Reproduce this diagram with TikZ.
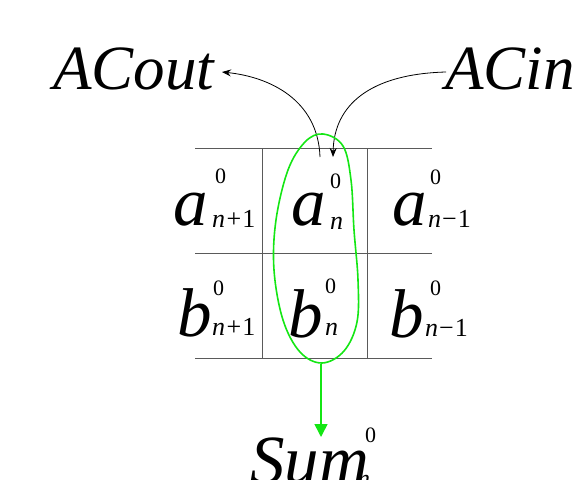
\documentclass[tikz,border=0pt]{standalone}
\usepackage{fontspec}
\setmainfont{Liberation Serif}
\usetikzlibrary{arrows.meta}
\definecolor{ovalgreen}{RGB}{20,230,20}
\definecolor{gridgray}{RGB}{90,90,90}
\begin{document}
\begin{tikzpicture}[x=1pt,y=-1pt,
  big/.style={inner sep=0,anchor=base west,font=\fontsize{69}{69}\selectfont\itshape},
  supz/.style={inner sep=0,anchor=base west,font=\fontsize{22}{22}\selectfont},
  subn/.style={inner sep=0,anchor=base west,font=\fontsize{26}{26}\selectfont},
  lbl/.style={inner sep=0,anchor=base west,font=\fontsize{63}{63}\selectfont\itshape},
  gridline/.style={draw=gridgray,line width=0.9pt},
  blackarrow/.style={draw=black,line width=0.8pt,-{Stealth[length=9pt,width=7pt]}},
  greenline/.style={draw=ovalgreen,line width=1.6pt}]
\useasboundingbox (0,0) rectangle (585,479);
% grid
\draw[gridline] (195,148) -- (432,148);
\draw[gridline] (195,253) -- (432,253);
\draw[gridline] (195,358) -- (432,358);
\draw[gridline] (262,148) -- (262,358);
\draw[gridline] (367,148) -- (367,358);
% row a
\node[big] (a1) at (173,225) {a};
\node[supz] (a1s) at (215,183) {0};
\node[subn] (a1n) at (212,227) {\textit{n}\kern1.5pt+\kern1pt1};
\node[big] (a2) at (291,225) {a};
\node[supz] (a2s) at (330,188) {0};
\node[subn] (a2n) at (330,229) {\textit{n}};
\node[big] (a3) at (392,225) {a};
\node[supz] (a3s) at (430,184) {0};
\node[subn] (a3n) at (428,227) {\textit{n}\kern1pt−\kern1pt1};
% row b
\node[big] (b1) at (177,336) {b};
\node[supz] (b1s) at (213,295) {0};
\node[subn] (b1n) at (212,335) {\textit{n}\kern1.5pt+\kern1pt1};
\node[big] (b2) at (288,337) {b};
\node[supz] (b2s) at (325,293) {0};
\node[subn] (b2n) at (325,335) {\textit{n}};
\node[big] (b3) at (389,337) {b};
\node[supz] (b3s) at (430,295) {0};
\node[subn] (b3n) at (425,336) {\textit{n}\kern1pt−\kern1pt1};
% labels
\node[lbl] (acout) at (53,89) {ACout};
\node[lbl] (acin) at (445,89) {ACin};
\node[big] (sum) at (250,483) {Sum};
\node[supz] (sums) at (365,442) {0};
\node[subn] (sumn) at (357,487) {\textit{n}};
% arrows
\coordinate (outstart) at (320,157);
\coordinate (outend) at (222,72);
\coordinate (instart) at (446,72);
\coordinate (inend) at (333,157);
\draw[blackarrow] (outstart) .. controls (318,100) and (270,77) .. (outend);
\draw[blackarrow] (instart) .. controls (370,74) and (334,105) .. (inend);
% green oval
\draw[greenline] plot[smooth cycle, tension=0.6] coordinates {
 (323,134) (343,146) (351,180) (354,230) (358,280) (357,322) (344,351)
 (322,363) (300,352) (283,320) (274,270) (276,220) (288,170) (305,142)};
\coordinate (ovalbottom) at (321,364);
\coordinate (sumtop) at (321,437);
\draw[greenline,-{Triangle[length=13pt,width=13pt]}] (ovalbottom) -- (sumtop);
\end{tikzpicture}
\end{document}
